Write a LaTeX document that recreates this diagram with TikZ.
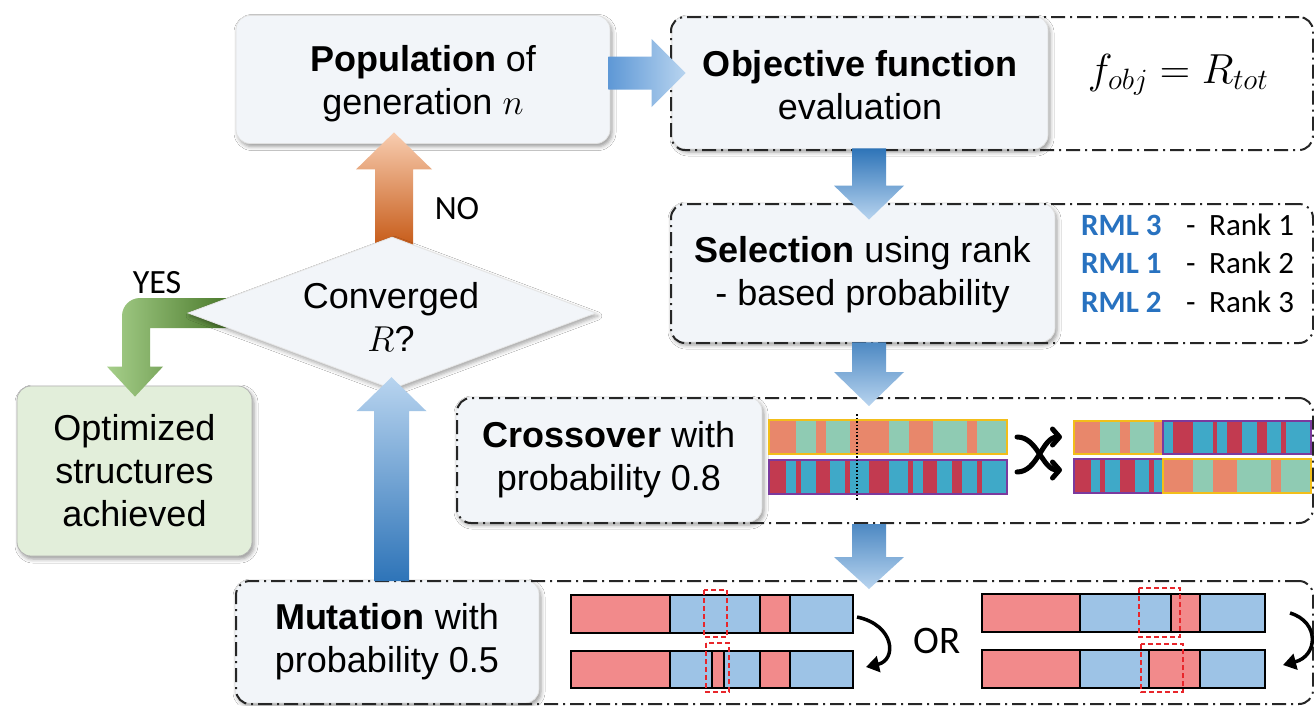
\documentclass[tikz,border=0pt]{standalone}
\usepackage{fix-cm}
\usepackage{fontspec}
\setmainfont{Liberation Sans}
\newfontfamily\labelfont{Carlito}
\usetikzlibrary{shapes.geometric,calc,arrows.meta,shadows.blur}

\definecolor{boxfill}{HTML}{F2F5F9}
\definecolor{optfill}{HTML}{E2EEDA}
\definecolor{blueD}{HTML}{2E74B8}
\definecolor{blueM}{HTML}{5E98D6}
\definecolor{blueL}{HTML}{B8D4EF}
\definecolor{orangeD}{HTML}{C65A17}
\definecolor{orangeL}{HTML}{F8CDB0}
\definecolor{greenD}{HTML}{4B7A2C}
\definecolor{greenL}{HTML}{A6CF8A}
\definecolor{rmlblue}{HTML}{2872C0}
\definecolor{mutred}{HTML}{F28A8B}
\definecolor{mutblue}{HTML}{9DC3E6}
\definecolor{dashred}{HTML}{E8262B}
\definecolor{gOrange}{HTML}{E8876B}
\definecolor{gTeal}{HTML}{8FCBB3}
\definecolor{gCrimson}{HTML}{C23A50}
\definecolor{gCyan}{HTML}{3FA9C8}
\definecolor{gYellow}{HTML}{F2BE1A}
\definecolor{gPurple}{HTML}{7B3A9E}

\tikzset{
  stagebox/.style={rounded corners=14pt, fill=boxfill, draw=black!12, line width=0.8pt,
    blur shadow={shadow xshift=2pt, shadow yshift=-3pt, shadow blur radius=4pt, shadow opacity=40},
    align=center, inner sep=0pt, font=\fontsize{36}{43}\selectfont},
  stageframe/.style={rounded corners=14pt, draw=black!85, line width=2pt,
    dash pattern=on 14pt off 5pt on 2pt off 5pt, inner sep=0pt},
  flowtag/.style={font=\labelfont\fontsize{34}{36}\selectfont, inner sep=0pt},
  rankline/.style={font=\labelfont\fontsize{31}{33}\selectfont, inner sep=0pt, anchor=base west},
  rmlname/.style={rankline, text=rmlblue, font=\labelfont\bfseries\fontsize{31}{33}\selectfont},
  mutbar/.style={draw=black, line width=1.6pt},
  mutmark/.style={draw=dashred, line width=1.6pt, dash pattern=on 5pt off 3pt},
  swapline/.style={line width=5pt, line cap=round, -{Straight Barb[length=7pt,width=16pt,round]}},
  turnline/.style={line width=3.5pt, -{Triangle[length=13pt,width=16pt]}},
}

% vertical block arrow: #1 start, #2 tip, #3 shaft half width, #4 head half width,
% #5 signed head length (towards the start), #6 shading
\newcommand\flowv[6]{%
  \shade[#6] ($(#1)+(-#3,0)$) -- ($(#2)+(-#3,#5)$) -- ($(#2)+(-#4,#5)$) -- (#2)
    -- ($(#2)+(#4,#5)$) -- ($(#2)+(#3,#5)$) -- ($(#1)+(#3,0)$) -- cycle;}
% horizontal block arrow, same arguments
\newcommand\flowh[6]{%
  \shade[#6] ($(#1)+(0,-#3)$) -- ($(#2)+(#5,-#3)$) -- ($(#2)+(#5,-#4)$) -- (#2)
    -- ($(#2)+(#5,#4)$) -- ($(#2)+(#5,#3)$) -- ($(#1)+(0,#3)$) -- cycle;}
% one coloured segment of a chromosome bar
\newcommand\mseg[5]{\filldraw[mutbar, fill=#1] (#2,#3) rectangle (#4,#5);}
% coloured bands of a crossover chromosome: #1 top, #2 bottom, #3 list x0/x1/colour
\newcommand\bands[3]{\foreach \xa/\xb/\cc in {#3} {\fill[\cc] (\xa,#1) rectangle (\xb,#2);}}

\begin{document}
\begin{tikzpicture}[x=1pt,y=-1pt]
\useasboundingbox (0,0) rectangle (1314,705);
\fill[white] (0,0) rectangle (1314,705);

% ---- stage boxes ----
\node[stagebox, minimum width=374pt, minimum height=128pt] (pop) at (423,79.5)
  {\rule{0pt}{34pt}\textbf{Population} of\\generation $n$};
\node[stagebox, fill=optfill, draw=black!30, minimum width=235pt, minimum height=170pt] (opt)
  at (134.5,471) {Optimized\\structures\\achieved};

\node[stagebox, minimum width=376pt, minimum height=133pt] (obj) at (860,82.5)
  {\rule{0pt}{31pt}\textbf{Objective function}\\evaluation};
\node[stageframe, anchor=north west, minimum width=642pt, minimum height=133pt] (objF) at (670,16) {};
\node[font=\fontsize{42}{46}\selectfont, inner sep=0pt] (fobj) at (1178,75) {$f_{obj} = R_{tot}$};

\node[stagebox, minimum width=385pt, minimum height=139pt] (sel) at (862.5,272.5)
  {\rule{0pt}{30pt}\textbf{Selection} using rank\\- based probability};
\node[stageframe, anchor=north west, minimum width=642pt, minimum height=139pt] (selF) at (670,203) {};

\node[stagebox, minimum width=306pt, minimum height=125pt] (cross) at (609,459.5)
  {\textbf{Crossover} with\\probability 0.8};
\node[stageframe, anchor=north west, minimum width=856pt, minimum height=125pt] (crossF) at (456,397) {};

\node[stagebox, minimum width=304pt, minimum height=123pt] (mut) at (387,641.5)
  {\textbf{Mutation} with\\probability 0.5};
\node[stageframe, anchor=north west, minimum width=1077pt, minimum height=123pt] (mutF) at (235,580) {};

% ---- ranking list ----
\node[rmlname] (rml3) at (1081,235) {RML 3};
\node[rankline] (d1) at (1186,235) {-};
\node[rankline] (rk1) at (1209,235) {Rank 1};
\node[rmlname] (rml1) at (1081,273) {RML 1};
\node[rankline] (d2) at (1186,273) {-};
\node[rankline] (rk2) at (1209,273) {Rank 2};
\node[rmlname] (rml2) at (1081,312) {RML 2};
\node[rankline] (d3) at (1186,312) {-};
\node[rankline] (rk3) at (1209,312) {Rank 3};

% ---- decision diamond and its outgoing arrows ----
\node[diamond, inner sep=0pt, minimum width=408pt, minimum height=152pt] (conv) at (392,313) {};

\coordinate (gS) at ($(conv.west)+(40,0)$);
\coordinate (gT) at ($(opt.north)+(0.5,11)$);
\coordinate (oS) at ($(conv.north)+(2,10)$);
\coordinate (oT) at ($(pop.south)+(-29,-11.5)$);

% YES branch (drawn below the diamond)
\shade[left color=greenL, middle color=greenL!95!greenD, right color=greenD]
  ($(gS)+(0,-15)$) -- ($(gT|-gS)+(5,-15)$) arc[start angle=270, end angle=180, radius=18]
  -- ($(gT)+(-13,-30)$) -- ($(gT)+(-28,-30)$) -- (gT) -- ($(gT)+(28,-30)$)
  -- ($(gT)+(15,-30)$) -- ($(gT|-gS)+(15,15)$) -- ($(gS)+(0,15)$) -- cycle;
% NO branch
\flowv{oS}{oT}{19}{38}{37}{top color=orangeL, bottom color=orangeD}

\node[diamond, fill=boxfill, draw=black!10, line width=0.8pt, inner sep=0pt,
  blur shadow={shadow xshift=2pt, shadow yshift=-3pt, shadow blur radius=4pt, shadow opacity=35},
  minimum width=408pt, minimum height=152pt] (convbg) at (conv.center) {};
\node[align=center, inner sep=0pt, font=\fontsize{36}{43}\selectfont] (convtxt) at (391,317)
  {Converged\\$R$?};

\node[flowtag] (no) at (457,209) {NO};
\node[flowtag] (yes) at (157,283) {YES};

% ---- main loop arrows ----
\coordinate (a1s) at ($(pop.east)+(-2,-6.5)$);
\coordinate (a1e) at ($(obj.west)+(14,-9.5)$);
\flowh{a1s}{a1e}{16.5}{34}{-34}{left color=blueM, right color=blueL}

\coordinate (a2s) at ($(obj.south)+(9,-1)$);
\coordinate (a2e) at ($(sel.north)+(6.5,17)$);
\flowv{a2s}{a2e}{17}{35}{-34}{top color=blueD, bottom color=blueL}

\coordinate (a3s) at ($(sel.south)+(6.5,0)$);
\coordinate (a3e) at ($(crossF.north west)+(413,9)$);
\flowv{a3s}{a3e}{17}{35}{-34}{top color=blueD!85!white, bottom color=blueL}

\coordinate (a4s) at ($(crossF.south west)+(413,0)$);
\coordinate (a4e) at ($(mutF.north west)+(634,9)$);
\flowv{a4s}{a4e}{17}{35}{-32}{top color=blueD!85!white, bottom color=blueL}

\coordinate (a5s) at ($(mut.north)+(4.5,1.5)$);
\coordinate (a5e) at ($(conv.south)+(-0.5,-12)$);
\flowv{a5s}{a5e}{17.5}{35}{34}{top color=blueL, bottom color=blueD}

% ---- crossover chromosomes ----
\bands{420}{454}{769/796/gOrange,796/816/gTeal,816/826/gOrange,826/850/gTeal,850/889/gOrange,
  889/909/gTeal,909/933/gOrange,933/967/gTeal,967/977/gOrange,977/1007/gTeal}
\draw[gYellow, line width=2.2pt] (769,420) rectangle (1007,454);
\bands{460}{494}{769/786/gCrimson,786/796/gCyan,796/801/gCrimson,801/816/gCyan,816/830/gCrimson,
  830/845/gCyan,845/850/gCrimson,850/869/gCyan,869/889/gCrimson,889/908/gCyan,908/913/gCrimson,
  913/923/gCyan,923/937/gCrimson,937/952/gCyan,952/962/gCrimson,962/977/gCyan,977/982/gCrimson,
  982/1007/gCyan}
\draw[gPurple, line width=2.2pt] (769,460) rectangle (1007,494);
\draw[line width=1.5pt, dotted] (857,414) -- (857,500);

\draw[swapline] (1017,437) .. controls (1038,437) and (1042,470) .. (1062,470);
\draw[swapline] (1017,472) .. controls (1038,472) and (1042,437) .. (1062,437);

\bands{421}{454}{1074/1100/gOrange,1100/1120/gTeal,1120/1130/gOrange,1130/1154/gTeal,1154/1163/gOrange}
\bands{421}{454}{1163/1173/gCyan,1173/1193/gCrimson,1193/1213/gCyan,1213/1217/gCrimson,1217/1227/gCyan,
  1227/1242/gCrimson,1242/1257/gCyan,1257/1267/gCrimson,1267/1281/gCyan,1281/1286/gCrimson,1286/1311/gCyan}
\draw[gYellow, line width=2.2pt] (1074,421) rectangle (1163,454);
\draw[gPurple, line width=2.2pt] (1163,421) rectangle (1311,454);
\bands{459}{493}{1074/1091/gCrimson,1091/1100/gCyan,1100/1105/gCrimson,1105/1120/gCyan,1120/1135/gCrimson,
  1135/1149/gCyan,1149/1154/gCrimson,1154/1163/gCyan}
\bands{459}{493}{1163/1193/gOrange,1193/1213/gTeal,1213/1237/gOrange,1237/1271/gTeal,1271/1281/gOrange,
  1281/1311/gTeal}
\draw[gPurple, line width=2.2pt] (1074,459) rectangle (1163,493);
\draw[gYellow, line width=2.2pt] (1163,459) rectangle (1311,493);

% ---- mutation chromosomes ----
\mseg{mutred}{571}{595}{670}{633}\mseg{mutblue}{670}{595}{760}{633}
\mseg{mutred}{760}{595}{790}{633}\mseg{mutblue}{790}{595}{853}{633}
\mseg{mutred}{571}{651}{670}{688}\mseg{mutblue}{670}{651}{760}{688}
\mseg{mutred}{712}{651}{724}{688}
\mseg{mutred}{760}{651}{790}{688}\mseg{mutblue}{790}{651}{853}{688}
\draw[mutmark] (704,590) rectangle (727,637);
\draw[mutmark] (706,643) rectangle (729,692);

\mseg{mutred}{982}{594}{1080}{632}\mseg{mutblue}{1080}{594}{1171}{632}
\mseg{mutred}{1171}{594}{1200}{632}\mseg{mutblue}{1200}{594}{1265}{632}
\mseg{mutred}{982}{650}{1080}{688}\mseg{mutblue}{1080}{650}{1149}{688}
\mseg{mutred}{1149}{650}{1200}{688}\mseg{mutblue}{1200}{650}{1265}{688}
\draw[mutmark] (1139,588) rectangle (1180,637);
\draw[mutmark] (1141,644) rectangle (1183,692);

\draw[turnline] (857,617) .. controls (895,625) and (897,660) .. (866,667);
\draw[turnline] (1290,613) .. controls (1320,622) and (1318,656) .. (1283,665);
\node[flowtag, font=\labelfont\fontsize{39}{42}\selectfont] (orword) at (937,641) {OR};
\end{tikzpicture}
\end{document}
